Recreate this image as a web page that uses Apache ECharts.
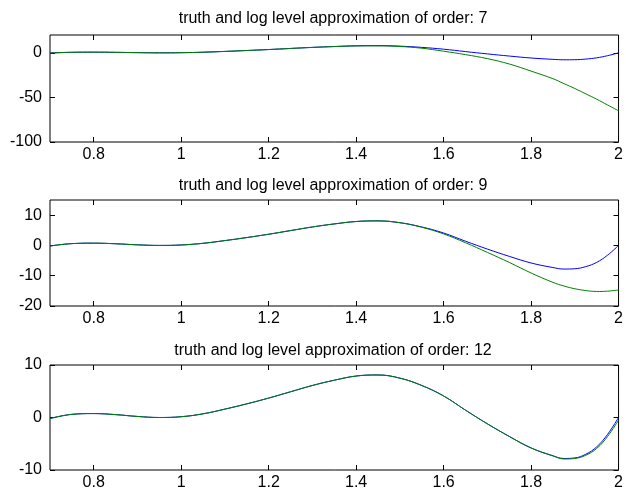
<!DOCTYPE html>
<html>
<head>
<meta charset="utf-8">
<script src="https://cdn.jsdelivr.net/npm/echarts@6/dist/echarts.min.js"></script>
<style>
html,body{margin:0;padding:0;background:#fff;}
#chart{width:626px;height:495px;}
</style>
</head>
<body>
<div id="chart"></div>
<script>
// sample positions along x
var xs = [0.70,0.75,0.80,0.85,0.90,0.95,1.00,1.05,1.10,1.15,1.20,1.25,1.30,1.35,1.40,1.45,1.50,1.55,1.60,1.65,1.70,1.75,1.80,1.85,1.875,1.90,1.925,1.95,1.975,2.00];
// truth (blue)
var truth = [-0.2,0.6,0.75,0.55,0.2,0.0,0.15,0.7,1.6,2.6,3.7,4.9,6.1,7.1,7.9,8.1,7.5,6.1,4.1,1.4,-1.2,-3.6,-5.8,-7.3,-7.8,-7.7,-7.0,-5.6,-3.2,0];
// approximations (green)
var approx7 = [-0.2,0.6,0.75,0.55,0.2,0.0,0.15,0.7,1.6,2.6,3.7,4.9,6.1,7.0,7.7,7.8,7.1,5.2,1.8,-2.0,-6.5,-12.5,-20.5,-29,-34.5,-40,-46,-52,-58.5,-65];
var approx9 = [-0.2,0.6,0.75,0.55,0.2,0.0,0.15,0.7,1.6,2.6,3.7,4.9,6.1,7.1,7.9,8.1,7.5,6.0,3.8,0.9,-2.3,-5.6,-9.1,-12.2,-13.4,-14.3,-14.9,-15.2,-15.1,-14.7];
var approx12 = [-0.2,0.6,0.75,0.55,0.2,0.0,0.15,0.7,1.6,2.6,3.7,4.9,6.1,7.1,7.9,8.1,7.5,6.1,4.1,1.4,-1.2,-3.6,-5.8,-7.3,-7.9,-7.8,-7.2,-5.9,-3.6,-0.5];

var orders = [7, 9, 12];
var approxList = [approx7, approx9, approx12];
var xTicks = [0.8,1,1.2,1.4,1.6,1.8,2];
var yTicksList = [[-100,-50,0],[-20,-10,0,10],[-10,0,10]];
var yRanges = [[-100,20],[-20,15],[-10,10]];

var gridTops = [35,200,365];
var gridHeights = [107,106,105];
var titleTops = [6,173,338];

function pairs(ys){
	var out = [];
	for(var i=0;i<xs.length;i++){
		out.push([xs[i], ys[i]]);
	}
	return out;
}

var fontFam = '"Liberation Sans",Arial,sans-serif';
var grids = [], xAxes = [], yAxes = [], series = [], titles = [];

for(var k=0;k<3;k++){
	grids.push({left:50, right:4, top:gridTops[k], height:gridHeights[k],
		show:true, borderColor:'#000', borderWidth:1, backgroundColor:'#fff'});
	titles.push({text:'truth and log level approximation of order: ' + orders[k],
		left:328, top:titleTops[k], textAlign:'center',
		textStyle:{fontSize:16, fontWeight:'normal', color:'#000', fontFamily:fontFam}});
	// bottom and top x axes
	xAxes.push({type:'value', gridIndex:k, min:0.7, max:2, position:'bottom',
		axisLine:{show:false, onZero:false}, splitLine:{show:false},
		axisTick:{show:true, inside:true, length:5, customValues:xTicks, lineStyle:{color:'#000'}},
		axisLabel:{show:true, customValues:xTicks, margin:5, fontSize:16, color:'#000', fontFamily:fontFam}});
	xAxes.push({type:'value', gridIndex:k, min:0.7, max:2, position:'top',
		axisLine:{show:false, onZero:false}, splitLine:{show:false},
		axisTick:{show:true, inside:true, length:5, customValues:xTicks, lineStyle:{color:'#000'}},
		axisLabel:{show:false}});
	// left and right y axes
	yAxes.push({type:'value', gridIndex:k, min:yRanges[k][0], max:yRanges[k][1], position:'left',
		axisLine:{show:false, onZero:false}, splitLine:{show:false},
		axisTick:{show:true, inside:true, length:5, customValues:yTicksList[k], lineStyle:{color:'#000'}},
		axisLabel:{show:true, customValues:yTicksList[k], margin:8, fontSize:16, color:'#000', fontFamily:fontFam}});
	yAxes.push({type:'value', gridIndex:k, min:yRanges[k][0], max:yRanges[k][1], position:'right',
		axisLine:{show:false, onZero:false}, splitLine:{show:false},
		axisTick:{show:true, inside:true, length:5, customValues:yTicksList[k], lineStyle:{color:'#000'}},
		axisLabel:{show:false}});

	series.push({name:'truth', type:'line', xAxisIndex:2*k, yAxisIndex:2*k,
		data:pairs(truth), smooth:0.4, showSymbol:false, clip:true,
		lineStyle:{color:'#0000ff', width:1}, animation:false});
	series.push({name:'approx', type:'line', xAxisIndex:2*k, yAxisIndex:2*k,
		data:pairs(approxList[k]), smooth:0.4, showSymbol:false, clip:true,
		lineStyle:{color:'#008000', width:1}, animation:false});
}

var chart = echarts.init(document.getElementById('chart'));
chart.setOption({
	animation:false,
	backgroundColor:'#fff',
	title:titles,
	grid:grids,
	xAxis:xAxes,
	yAxis:yAxes,
	series:series
});
</script>
</body>
</html>
